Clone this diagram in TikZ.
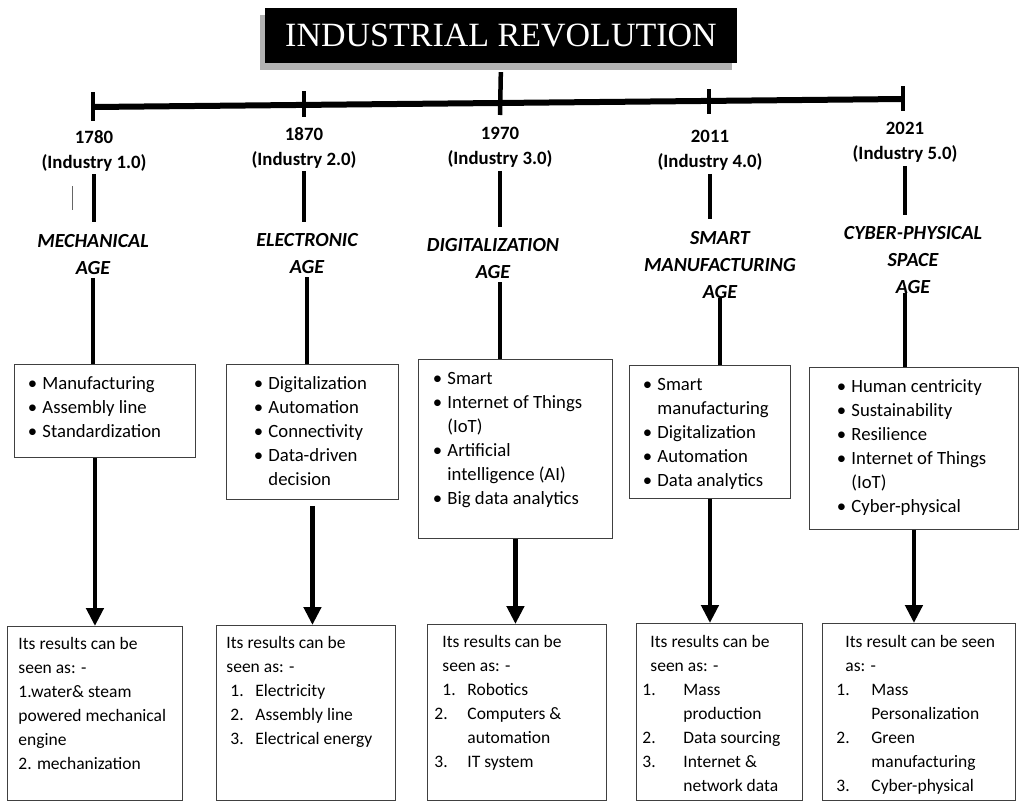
\documentclass[tikz,border=0pt]{standalone}
\usepackage{fontspec}
\setmainfont{Carlito}
\newfontfamily\titlefont{Liberation Serif}
\usepackage{tikz}
\usetikzlibrary{arrows.meta,shadows,calc}
\newcommand{\boxcell}[5]{\parbox[t][#1][t]{#2}{\raggedright\leftskip=#3\relax\vspace*{#4}\strut#5}}
\newcommand{\bulit}{\makebox[14.5pt][l]{\textbullet}}
\newcommand{\numitem}[3]{\hspace*{#1}\makebox[#2][l]{#3}}

\begin{document}
\begin{tikzpicture}[x=1pt, y=-1pt]
\tikzstyle{heading}=[fill=black, text=white, minimum width=472pt, minimum height=55pt, inner sep=0pt, font=\titlefont\fontsize{34}{34}\selectfont, drop shadow={shadow xshift=-5pt, shadow yshift=-7pt, fill=black!30, opacity=1}]
\tikzstyle{year}=[align=center, inner sep=3pt, font=\bfseries\fontsize{18.8}{25}\selectfont]
\tikzstyle{age}=[align=center, inner sep=3pt, font=\bfseries\itshape\fontsize{20}{27}\selectfont]
\tikzstyle{list}=[draw=black!75, line width=0.9pt, anchor=north west, inner sep=0pt, font=\fontsize{18.7}{24}\selectfont]
\tikzstyle{result}=[list, font=\fontsize{17.5}{24}\selectfont]
\tikzstyle{axis}=[line width=6pt]
\tikzstyle{tick}=[line width=4.5pt]
\tikzstyle{stem}=[line width=4.5pt]
\tikzstyle{connect}=[stem, -{Triangle[width=17pt,length=18pt]}]

\useasboundingbox (0,0) rectangle (1019,801);

  % title and time axis
  \node[heading] (title) at (501,35.5) {INDUSTRIAL REVOLUTION};

  \coordinate (axL) at (93,107);
  \coordinate (axR) at (903,99);
  \draw[axis] (axL) -- (axR);

  \draw[tick] (93,92) -- (93,121);
  \draw[tick] (304,91) -- (304,117);
  \coordinate (k3) at (500,115);
  \draw[tick, shorten <=9pt] (title.south) -- (k3);
  \draw[tick] (709,89) -- (709,114);
  \draw[tick] (903,86) -- (903,111);

  \draw[black!60, line width=0.8pt] (72,186) -- (72,210);

  % years
  \node[year] (yr1) at (94,150.5)  {1780\\(Industry 1.0)};
  \node[year] (yr2) at (304,147.5) {1870\\(Industry 2.0)};
  \node[year] (yr3) at (500,147.5) {1970\\(Industry 3.0)};
  \node[year] (yr4) at (710,150.5) {2011\\(Industry 4.0)};
  \node[year] (yr5) at (905,142.5) {2021\\(Industry 5.0)};

  % ages
  \node[age] (age1) at (93,254.5) {MECHANICAL\\AGE};
  \node[age] (age2) at (307,254)  {ELECTRONIC\\AGE};
  \node[age] (age3) at (493,259)  {DIGITALIZATION\\AGE};
  \node[age] (age4) at (720,265)  {SMART\\MANUFACTURING\\AGE};
  \node[age] (age5) at (913,260.5) {CYBER-PHYSICAL\\SPACE\\AGE};

  % key features
  \node[list] (box1) at (14,364)  {\boxcell{93pt}{181pt}{13.5pt}{8.7pt}{\bulit Manufacturing\\\bulit Assembly line\\\bulit Standardization}};
  \node[list] (box2) at (226,364) {\boxcell{135pt}{172pt}{27.5pt}{8.7pt}{\bulit Digitalization\\\bulit Automation\\\bulit Connectivity\\\bulit Data-driven\\\hspace*{14.5pt}decision}};
  \node[list] (box3) at (418,359) {\boxcell{179pt}{194pt}{14.5pt}{8.7pt}{\bulit Smart\\\bulit Internet of Things\\\hspace*{14.5pt}(IoT)\\\bulit Artificial\\\hspace*{14.5pt}intelligence (AI)\\\bulit Big data analytics}};
  \node[list] (box4) at (629,365) {\boxcell{133pt}{161pt}{13.5pt}{8.7pt}{\bulit Smart\\\hspace*{14.5pt}manufacturing\\\bulit Digitalization\\\bulit Automation\\\bulit Data analytics}};
  \node[list] (box5) at (809,367) {\boxcell{162pt}{209pt}{27.5pt}{8.7pt}{\bulit Human centricity\\\bulit Sustainability\\\bulit Resilience\\\bulit Internet of Things\\\hspace*{14.5pt}(IoT)\\\bulit Cyber-physical}};

  % results
  \node[result] (res1) at (7,626)   {\boxcell{174pt}{175pt}{11pt}{6.7pt}{Its results can be\\seen as: -\\1.water\& steam\\powered mechanical\\engine\\2. mechanization}};
  \node[result] (res2) at (216,625) {\boxcell{175pt}{179pt}{10pt}{6.7pt}{Its results can be\\seen as: -\\\numitem{4pt}{25pt}{1.}Electricity\\\numitem{4pt}{25pt}{2.}Assembly line\\\numitem{4pt}{25pt}{3.}Electrical energy}};
  \node[result] (res3) at (427,624) {\boxcell{176pt}{179pt}{15pt}{6.7pt}{Its results can be\\seen as: -\\\numitem{0pt}{25pt}{1.}Robotics\\\numitem{-8pt}{33pt}{2.}Computers \&\\\hspace*{25pt}automation\\\numitem{-8pt}{33pt}{3.}IT system}};
  \node[result] (res4) at (636,623) {\boxcell{177pt}{166pt}{6pt}{7.7pt}{\hspace*{8pt}Its results can be\\\hspace*{8pt}seen as: -\\\numitem{0pt}{41pt}{1.}Mass\\\hspace*{41pt}production\\\numitem{0pt}{41pt}{2.}Data sourcing\\\numitem{0pt}{41pt}{3.}Internet \&\\\hspace*{41pt}network data}};
  \node[result] (res5) at (822,623) {\boxcell{177pt}{193pt}{14pt}{7.7pt}{\hspace*{9pt}Its result can be seen\\\hspace*{9pt}as: -\\\numitem{0pt}{35pt}{1.}Mass\\\hspace*{35pt}Personalization\\\numitem{0pt}{35pt}{2.}Green\\\hspace*{35pt}manufacturing\\\numitem{0pt}{35pt}{3.}Cyber-physical}};

  % connectors
  \path (yr1.south) edge [stem, shorten >=9pt] (yr1.south |- age1.north);
  \path (yr2.south) edge [stem, shorten >=9pt] (yr2.south |- age2.north);
  \path (yr3.south) edge [stem, shorten >=9pt] (yr3.south |- age3.north);
  \path (yr4.south) edge [stem, shorten >=9pt] (yr4.south |- age4.north);
  \path (yr5.south) edge [stem, shorten >=9pt] (yr5.south |- age5.north);

  \path (age1.south) edge [stem] (age1.south |- box1.north);
  \path (age2.south) edge [stem] (age2.south |- box2.north);
  \path (yr3 |- age3.south) edge [stem] (yr3 |- box3.north);
  \path (age4.south) edge [stem, shorten <=-4pt] (age4.south |- box4.north);
  \path (yr5 |- age5.south) edge [stem, shorten <=-4pt] (yr5 |- box5.north);

  \path (res1.north |- box1.south) edge [connect] (res1.north);
  \path (box2.south) edge [connect, shorten <=6pt] (box2.south |- res2.north);
  \path (box3.south) edge [connect] (box3.south |- res3.north);
  \path (box4.south) edge [connect] (box4.south |- res4.north);
  \path (box5.south) edge [connect] (box5.south |- res5.north);

\end{tikzpicture}
\end{document}
